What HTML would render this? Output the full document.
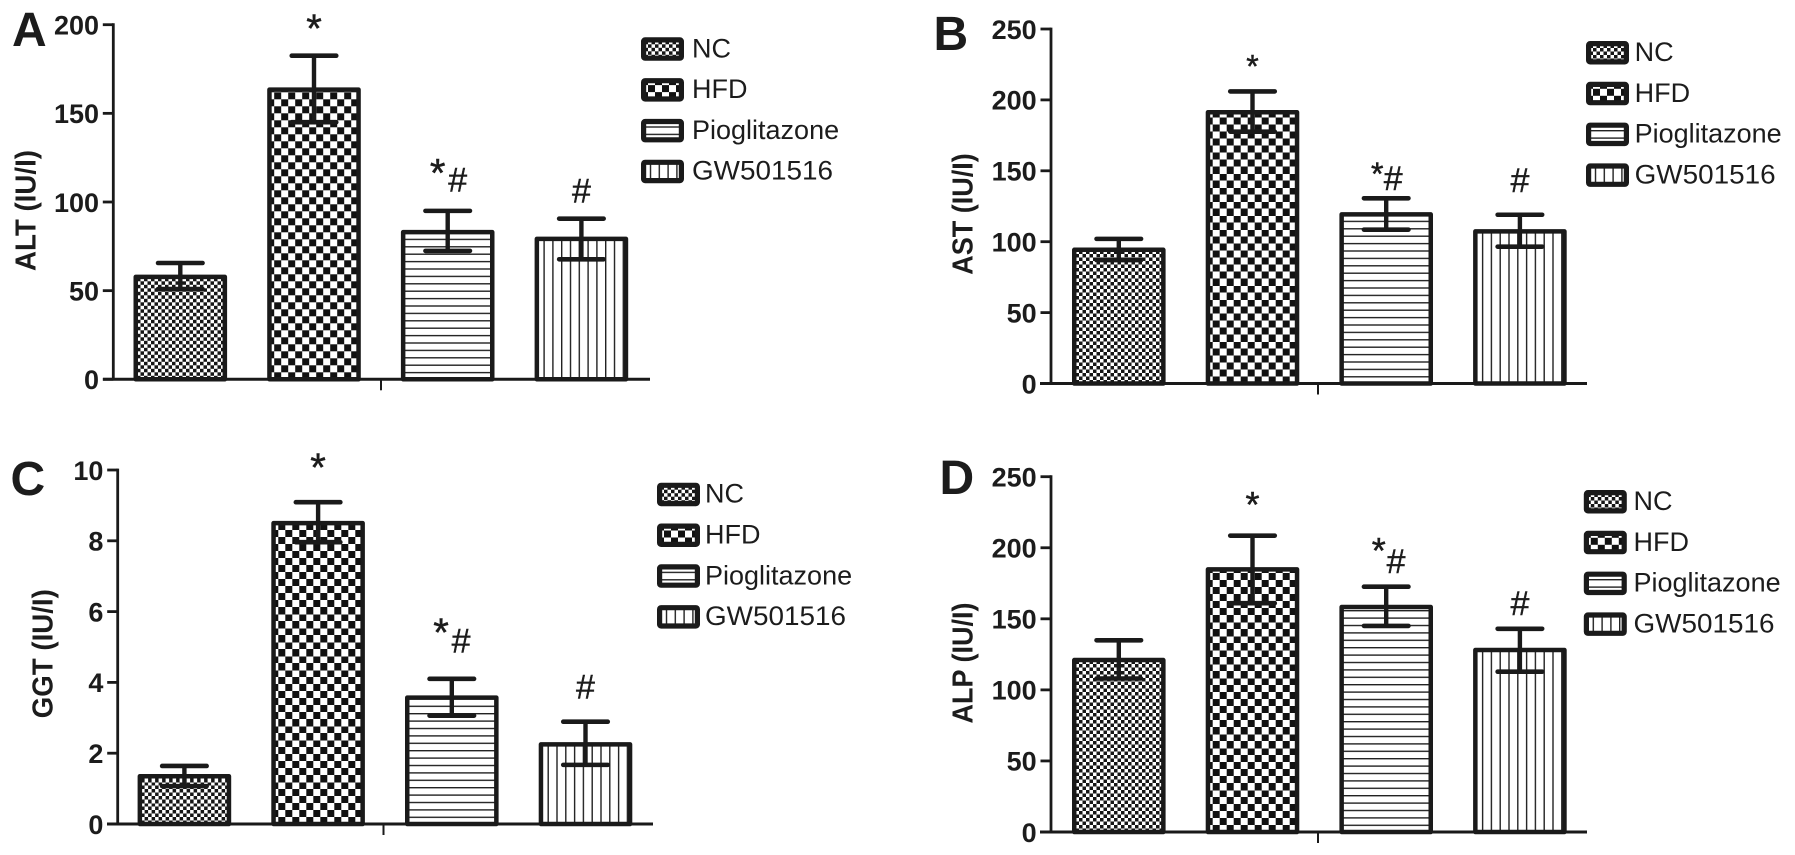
<!DOCTYPE html>
<html lang="en">
<head>
<meta charset="utf-8">
<title>Serum liver enzymes by treatment group</title>
<style>
html,body{margin:0;padding:0;background:#fff;}
svg{display:block;}
text{font-family:"Liberation Sans",Arial,sans-serif;fill:#1c1c1c;}
</style>
</head>
<body>
<svg id="figure" xmlns="http://www.w3.org/2000/svg" width="1795" height="855" viewBox="0 0 1795 855">
<defs>
<pattern id="pat-fine" patternUnits="userSpaceOnUse" width="7" height="7"><rect width="7" height="7" fill="#fff"/><rect x="0" y="0" width="3.5" height="3.5" fill="#161616"/><rect x="3.5" y="3.5" width="3.5" height="3.5" fill="#161616"/></pattern>
<pattern id="pat-coarse" patternUnits="userSpaceOnUse" width="14" height="14"><rect width="14" height="14" fill="#fff"/><rect x="0" y="0" width="7" height="7" fill="#111"/><rect x="7" y="7" width="7" height="7" fill="#111"/></pattern>
<pattern id="pat-horizontal" patternUnits="userSpaceOnUse" width="10" height="7.4"><rect width="10" height="7.4" fill="#fff"/><rect x="0" y="0" width="10" height="1.4" fill="#222"/></pattern>
<pattern id="pat-vertical" patternUnits="userSpaceOnUse" width="8.8" height="10"><rect width="8.8" height="10" fill="#fff"/><rect x="0" y="0" width="1.4" height="10" fill="#222"/></pattern>
</defs>
</svg>
<script>
const groups = ['NC', 'HFD', 'Pioglitazone', 'GW501516'];

const altTicks = [0, 50, 100, 150, 200];
const altMeans = [57.8, 163.4, 83, 79.2];
const altHigh = [65.6, 182.5, 95, 90.6];
const altLow = [50.9, 145, 72.4, 67.7];
const altStars = [null, 200.4, 119, null];
const altHashes = [null, null, 112.8, 106.4];

const astTicks = [0, 50, 100, 150, 200, 250];
const astMeans = [94.3, 191.3, 119.3, 107.3];
const astHigh = [102, 206, 130.6, 119];
const astLow = [87, 177.6, 108.5, 96.5];
const astStars = [null, 226, 150, null];
const astHashes = [null, null, 145, 143.5];

const ggtTicks = [0, 2, 4, 6, 8, 10];
const ggtMeans = [1.35, 8.5, 3.57, 2.25];
const ggtHigh = [1.64, 9.09, 4.1, 2.89];
const ggtLow = [1.07, 7.96, 3.06, 1.67];
const ggtStars = [null, 10.2, 5.53, null];
const ggtHashes = [null, null, 5.18, 3.88];

const alpTicks = [0, 50, 100, 150, 200, 250];
const alpMeans = [121, 184.8, 158.3, 128.1];
const alpHigh = [134.9, 208.5, 172.6, 143];
const alpLow = [108, 161, 145, 112.8];
const alpStars = [null, 233, 200.7, null];
const alpHashes = [null, null, 190.9, 161.3];

const patterns = ['pat-fine', 'pat-coarse', 'pat-horizontal', 'pat-vertical'];

const panels = [
  {id:'a', letter:'A', title:'ALT (IU/I)', ticks:altTicks, means:altMeans, high:altHigh, low:altLow, stars:altStars, hashes:altHashes,
   axisX:113.3, top:24.7, base:379.3, lineL:103, lineR:650, tickX:381, barL:133.5, letterX:12, letterY:46, titleX:35.5, titleY:210.5, titleLen:121,
   legX:641, legY:37.3, textX:692, starFont:40, starDx:-10, hashDx:10},
  {id:'b', letter:'B', title:'AST (IU/I)', ticks:astTicks, means:astMeans, high:astHigh, low:astLow, stars:astStars, hashes:astHashes,
   axisX:1051, top:29, base:383.5, lineL:1040, lineR:1587, tickX:1318, barL:1072, letterX:933.5, letterY:50, titleX:972.5, titleY:214, titleLen:121.5,
   legX:1586, legY:41, textX:1634.6, starFont:32, starDx:-9, hashDx:7},
  {id:'c', letter:'C', title:'GGT (IU/I)', ticks:ggtTicks, means:ggtMeans, high:ggtHigh, low:ggtLow, stars:ggtStars, hashes:ggtHashes,
   axisX:117.7, top:470, base:824, lineL:107, lineR:653, tickX:383.5, barL:137.6, letterX:10.5, letterY:495, titleX:52.5, titleY:653.7, titleLen:129,
   legX:657, legY:482.7, textX:705, starFont:40, starDx:-10.7, hashDx:9.3},
  {id:'d', letter:'D', title:'ALP (IU/I)', ticks:alpTicks, means:alpMeans, high:alpHigh, low:alpLow, stars:alpStars, hashes:alpHashes,
   axisX:1051, top:476.7, base:832, lineL:1040, lineR:1587, tickX:1318, barL:1072, letterX:939.5, letterY:494, titleX:972.5, titleY:663, titleLen:121,
   legX:1583.8, legY:490, textX:1633.5, starFont:36, starDx:-7.5, hashDx:9.9}
];

const SVGNS = 'http://www.w3.org/2000/svg';
const INK = '#1a1a1a';
const BAR_W = 93.6;
const BAR_STEP = 133.7;
const BAR_STROKE = 4.5;
const CAP_W = 44.5;
const LEG_STEP = 40.8;
const GW_LABEL_LEN = 141;
const svg = document.getElementById('figure');

function make(parent, tag, attrs, content) {
  const node = document.createElementNS(SVGNS, tag);
  for (const k in attrs) node.setAttribute(k, attrs[k]);
  if (content !== undefined) node.textContent = content;
  parent.appendChild(node);
  return node;
}

function yScale(p) {
  const max = p.ticks[p.ticks.length - 1];
  return v => p.base - (v / max) * (p.base - p.top);
}

function xScale(p) {
  return i => p.barL + i * BAR_STEP;
}

function drawAxes(p, root, y) {
  const yAxis = make(root, 'line', {x1:p.axisX, x2:p.axisX, y1:p.top - 1.4, y2:p.base, stroke:INK, 'stroke-width':2.8});
  
  
  const xAxis = make(root, 'line', {x1:p.lineL, x2:p.lineR, y1:p.base, y2:p.base, stroke:INK, 'stroke-width':3});
  
  
  const xTick = make(root, 'line', {x1:p.tickX, x2:p.tickX, y1:p.base, y2:p.base + 11, stroke:INK, 'stroke-width':2});
  
  
  p.ticks.forEach(t => {
    const mark = make(root, 'line', {x1:p.axisX - 10.5, x2:p.axisX, y1:y(t), y2:y(t), stroke:INK, 'stroke-width':2.8});
    
    
    const label = make(root, 'text', {x:p.axisX - 14.3, y:y(t) + 9.8, 'text-anchor':'end', 'font-size':27, 'font-weight':'bold'}, String(t));
    
    
  });
  const title = make(root, 'text', {transform:'translate(' + p.titleX + ',' + p.titleY + ') rotate(-90)', 'text-anchor':'middle', 'font-size':29, 'font-weight':'bold', textLength:p.titleLen, lengthAdjust:'spacingAndGlyphs'}, p.title);
  
  
  const letter = make(root, 'text', {x:p.letterX, y:p.letterY, 'font-size':48, 'font-weight':'bold'}, p.letter);
  
  
}

function drawBars(p, root, x, y) {
  p.means.forEach((m, i) => {
    const left = x(i);
    const h = p.base - y(m);
    const g = make(root, 'g', {transform:'translate(' + left + ',' + p.base + ')'});
    const bar = make(g, 'rect', {x:BAR_STROKE / 2, y:-h, width:BAR_W - BAR_STROKE, height:h, fill:'url(#' + patterns[i] + ')', stroke:INK, 'stroke-width':BAR_STROKE, 'stroke-linejoin':'round'});
    
    
  });
}

function drawErrors(p, root, x, y) {
  p.means.forEach((m, i) => {
    const cx = x(i) + BAR_W / 2;
    const stem = make(root, 'line', {x1:cx, x2:cx, y1:y(p.high[i]), y2:y(p.low[i]), stroke:INK, 'stroke-width':4.4});
    
    
    const capHigh = make(root, 'line', {x1:cx - CAP_W / 2, x2:cx + CAP_W / 2, y1:y(p.high[i]), y2:y(p.high[i]), stroke:INK, 'stroke-width':4.6, 'stroke-linecap':'round'});
    
    
    const capLow = make(root, 'line', {x1:cx - CAP_W / 2, x2:cx + CAP_W / 2, y1:y(p.low[i]), y2:y(p.low[i]), stroke:INK, 'stroke-width':4.6, 'stroke-linecap':'round'});
    
    
  });
}

function drawMarkers(p, root, x, y) {
  p.means.forEach((m, i) => {
    const cx = x(i) + BAR_W / 2;
    const both = p.stars[i] !== null && p.hashes[i] !== null;
    if (p.stars[i] !== null) {
      const star = make(root, 'text', {x:cx + (both ? p.starDx : 0), y:y(p.stars[i]) + 0.45 * p.starFont, 'text-anchor':'middle', 'font-size':p.starFont, stroke:'#1c1c1c', 'stroke-width':0.5}, '*');
      
      
    }
    if (p.hashes[i] !== null) {
      const hash = make(root, 'text', {x:cx + (both ? p.hashDx : 0), y:y(p.hashes[i]) + 0.355 * 34, 'text-anchor':'middle', 'font-size':34, stroke:'#1c1c1c', 'stroke-width':0.4}, '#');
      
      
    }
  });
}

function drawLegend(p, root) {
  groups.forEach((name, i) => {
    const top = p.legY + i * LEG_STEP;
    const g = make(root, 'g', {transform:'translate(' + p.legX + ',' + top + ')'});
    
    
    const swatch = make(g, 'rect', {x:2.6, y:2.6, width:37.8, height:18.3, rx:1.5, fill:'url(#' + patterns[i] + ')', stroke:INK, 'stroke-width':5.2});
    
    
    const label = make(root, 'text', {x:p.textX, y:top + 20, 'font-size':27}, name);
    
    
    if (name === 'GW501516') {
      label.setAttribute('textLength', GW_LABEL_LEN);
      label.setAttribute('lengthAdjust', 'spacingAndGlyphs');
    }
  });
}

panels.forEach(p => {
  const root = make(svg, 'g', {});
  
  
  const x = xScale(p);
  const y = yScale(p);
  drawBars(p, root, x, y);
  drawAxes(p, root, y);
  drawErrors(p, root, x, y);
  drawMarkers(p, root, x, y);
  drawLegend(p, root);
});
</script>
</body>
</html>
